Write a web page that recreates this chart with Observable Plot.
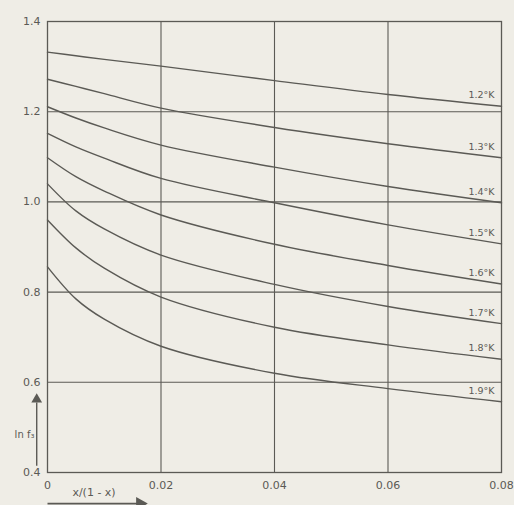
<!DOCTYPE html>
<html>
<head>
<meta charset="utf-8">
<script src="https://cdn.jsdelivr.net/npm/d3@7"></script>
<script src="https://cdn.jsdelivr.net/npm/@observablehq/plot@0.6"></script>
<style>
  html, body { margin: 0; padding: 0; background: #efede6; }
  #chart { width: 514px; height: 505px; overflow: hidden; }
</style>
</head>
<body>
<div id="chart"></div>
<script>
// x/(1-x) sample positions
const xVals = [0, 0.005, 0.01, 0.02, 0.04, 0.06, 0.08];
// ln f3 per temperature
const temps = ["1.2°K", "1.3°K", "1.4°K", "1.5°K", "1.6°K", "1.7°K", "1.8°K", "1.9°K"];
const t12 = [1.332, 1.324, 1.316, 1.301, 1.269, 1.238, 1.212];
const t13 = [1.272, 1.256, 1.240, 1.208, 1.165, 1.129, 1.098];
const t14 = [1.211, 1.186, 1.164, 1.126, 1.077, 1.034, 0.998];
const t15 = [1.152, 1.122, 1.097, 1.052, 0.998, 0.949, 0.907];
const t16 = [1.098, 1.056, 1.024, 0.971, 0.906, 0.859, 0.818];
const t17 = [1.040, 0.980, 0.940, 0.882, 0.817, 0.768, 0.730];
const t18 = [0.960, 0.898, 0.853, 0.789, 0.722, 0.683, 0.651];
const t19 = [0.856, 0.785, 0.740, 0.680, 0.620, 0.586, 0.557];
const xTicks = [0, 0.02, 0.04, 0.06, 0.08];
const yTicks = [0.4, 0.6, 0.8, 1.0, 1.2, 1.4];
const xGrid = [0.02, 0.04, 0.06];
const yGrid = [0.6, 0.8, 1.0, 1.2];

const series = [t12, t13, t14, t15, t16, t17, t18, t19];
const data = [];
series.forEach((s, i) => s.forEach((v, j) => data.push({t: temps[i], x: xVals[j], y: v})));
const ends = data.filter(d => d.x === 0.08);

const ink = "#5b5a55";

const chart = Plot.plot({
  width: 514,
  height: 505,
  marginLeft: 47,
  marginRight: 13,
  marginTop: 21,
  marginBottom: 33,
  x: {domain: [0, 0.08]},
  y: {domain: [0.4, 1.4]},
  style: {background: "#efede6", fontFamily: "DejaVu Sans, sans-serif", color: ink},
  marks: [
    Plot.ruleX(xGrid, {stroke: ink, strokeWidth: 1.1}),
    Plot.ruleY(yGrid, {stroke: ink, strokeWidth: 1.1}),
    Plot.frame({stroke: ink, strokeWidth: 1.3}),
    Plot.line(data, {x: "x", y: "y", z: "t", curve: "catmull-rom", stroke: ink, strokeWidth: 1.4}),
    Plot.text(ends, {x: "x", y: "y", text: "t", textAnchor: "end", dx: -7, dy: -11, fontSize: 9.5, fill: ink}),
    Plot.axisX({ticks: xTicks, tickSize: 0, tickPadding: 9, fontSize: 11, label: null,
      tickFormat: d => d === 0 ? "0" : d.toFixed(2)}),
    Plot.axisY({ticks: yTicks, tickSize: 0, tickPadding: 7, fontSize: 11, label: null,
      tickFormat: d => d.toFixed(1)}),
    // y-axis label with upward arrow
    Plot.link([{x: -0.0019, y1: 0.415, y2: 0.555}], {x1: "x", x2: "x", y1: "y1", y2: "y2", stroke: ink, strokeWidth: 1.4, clip: false}),
    Plot.dot([{x: -0.0019, y: 0.562}], {x: "x", y: "y", symbol: "triangle", r: 4, fill: ink, stroke: "none"}),
    Plot.text([{x: -0.0023, y: 0.483, s: "ln f₃"}], {x: "x", y: "y", text: "s", textAnchor: "end", fontSize: 10, fill: ink}),
    // x-axis label with arrow
    Plot.text([{x: 0.0082, y: 0.355, s: "x/(1 - x)"}], {x: "x", y: "y", text: "s", fontSize: 11, fill: ink}),
    Plot.link([{x1: 0.0, x2: 0.016, y: 0.331}], {x1: "x1", x2: "x2", y1: "y", y2: "y", stroke: ink, strokeWidth: 1.6}),
    Plot.dot([{x: 0.0163, y: 0.331}], {x: "x", y: "y", symbol: "triangle", r: 5, rotate: 90, fill: ink, stroke: "none"})
  ]
});
document.getElementById("chart").appendChild(chart);
</script>
</body>
</html>
